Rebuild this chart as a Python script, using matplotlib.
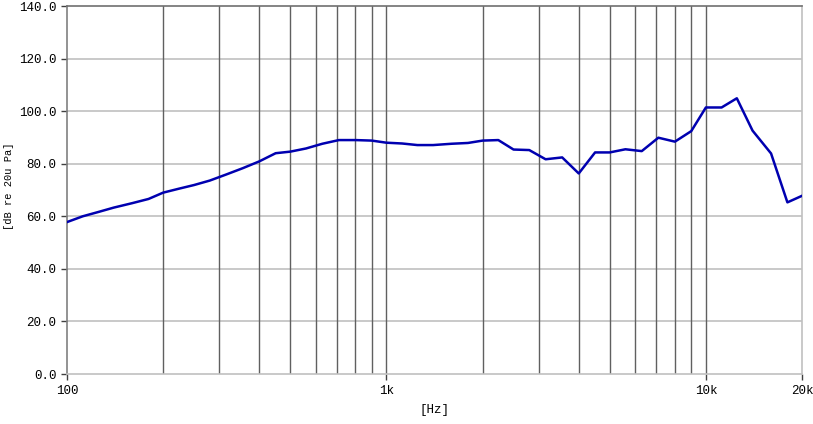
import matplotlib
matplotlib.use("Agg")
import matplotlib.pyplot as plt
from matplotlib.ticker import FixedLocator, NullLocator

plt.rcParams['font.family'] = ['Liberation Mono', 'DejaVu Sans Mono']

# 1/6 倍频程中心频率
freqs = [100, 112, 125, 140, 160, 180, 200, 224, 250, 280, 315, 355, 400, 450,
         500, 560, 630, 710, 800, 900, 1000, 1120, 1250, 1400, 1600, 1800, 2000,
         2240, 2500, 2800, 3150, 3550, 4000, 4500, 5000, 5600, 6300, 7100, 8000,
         9000, 10000, 11200, 12500, 14000, 16000, 18000, 20000]
levels = [57.8, 60.0, 61.6, 63.3, 65.0, 66.6, 69.0, 70.5, 71.9, 73.6, 75.9, 78.3,
          80.9, 84.0, 84.6, 85.8, 87.6, 89.0, 89.0, 88.8, 88.0, 87.7, 87.1, 87.1,
          87.6, 87.9, 88.8, 89.0, 85.4, 85.2, 81.7, 82.4, 76.3, 84.3, 84.3, 85.5,
          84.8, 89.9, 88.4, 92.4, 101.4, 101.4, 104.9, 92.6, 83.9, 65.3, 67.8]

grid_freqs = [200, 300, 400, 500, 600, 700, 800, 900, 1000,
              2000, 3000, 4000, 5000, 6000, 7000, 8000, 9000, 10000]
x_ticks = [100, 1000, 10000, 20000]
x_labels = ['100', '1k', '10k', '20k']
y_ticks = [0, 20, 40, 60, 80, 100, 120, 140]

fig = plt.figure(figsize=(8.13, 4.24), dpi=100)
ax = fig.add_axes([0.0824, 0.1179, 0.9041, 0.8679])

ax.set_xscale('log')
ax.set_xlim(100, 20000)
ax.set_ylim(0, 140)

# 网格
for y in y_ticks[1:-1]:
    ax.axhline(y, color='#c0c0c0', lw=1.2, zorder=1)
for f in grid_freqs:
    ax.axvline(f, color='#606060', lw=1.0, zorder=1)

ax.plot(freqs, levels, color='#0000b0', lw=1.8, zorder=3)

ax.xaxis.set_major_locator(FixedLocator(x_ticks))
ax.xaxis.set_minor_locator(NullLocator())
ax.set_xticklabels(x_labels)
ax.set_yticks(y_ticks)
ax.set_yticklabels([f'{v:.1f}' for v in y_ticks])
ax.tick_params(axis='both', labelsize=9, color='#404040', length=4, width=1)
ax.tick_params(axis='x', pad=4)

ax.spines['left'].set_color('#808080')
ax.spines['top'].set_color('#707070')
ax.spines['right'].set_color('#c0c0c0')
ax.spines['bottom'].set_color('#c0c0c0')
for s in ax.spines.values():
    s.set_linewidth(1.2)

ax.set_xlabel('[Hz]', fontsize=9, labelpad=5)
# y 轴标题
fig.text(9 / 813, 0.56, '[dB re 20u Pa]', fontsize=7.5, rotation=90,
         ha='center', va='center')

fig.savefig('out.png', dpi=100)
